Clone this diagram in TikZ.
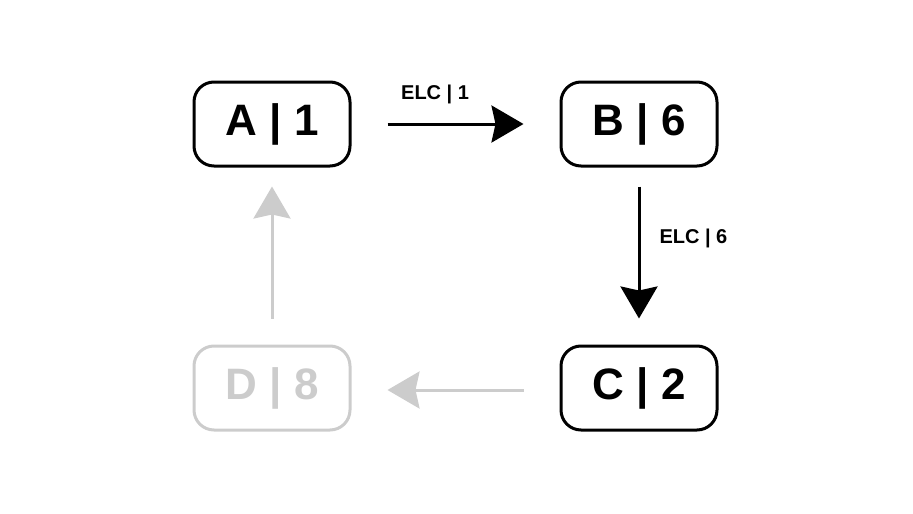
\documentclass[tikz,border=0pt]{standalone}
\usepackage{fontspec}
\setmainfont{Liberation Sans}
\usetikzlibrary{arrows.meta}
\definecolor{fade}{HTML}{CCCCCC}
\tikzset{
  stepbox/.style={draw, line width=3pt, rounded corners=20pt, minimum width=156pt, minimum height=84pt, font=\fontsize{44}{48}\selectfont\bfseries, inner sep=0pt},
  link/.style={line width=3pt, -{Stealth[length=32pt,width=37pt,inset=4pt]}},
  lbl/.style={font=\fontsize{20}{24}\selectfont\bfseries, inner sep=0pt}
}
\begin{document}
\begin{tikzpicture}[x=1pt,y=-1pt]
\useasboundingbox (0,0) rectangle (913,514);
\node[stepbox] (A) at (272,124) {A | 1};
\node[stepbox] (B) at (639,124) {B | 6};
\node[stepbox] (C) at (639,388) {C | 2};
\node[stepbox, draw=fade, text=fade] (D) at (272,388) {D | 8};
\draw[link] ([xshift=36pt]A.east) -- ([xshift=-36pt]B.west) node[pos=0.35, lbl, above=19pt] {ELC | 1};
\draw[link] ([yshift=-19pt]B.south) -- ([yshift=26pt]C.north) node[pos=0.39, lbl, right=19pt] {ELC | 6};
\draw[link, fade] ([xshift=-36pt,yshift=-2pt]C.west) -- ([xshift=36pt,yshift=-2pt]D.east);
\draw[link, fade] ([yshift=26pt]D.north) -- ([yshift=-19pt]A.south);
\end{tikzpicture}
\end{document}
